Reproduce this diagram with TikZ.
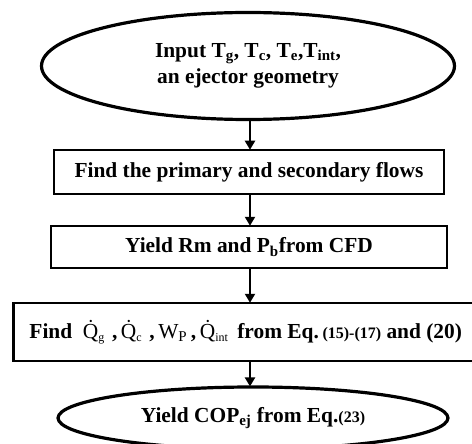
\documentclass[tikz,border=0pt]{standalone}
\usepackage{fontspec}
\setmainfont{Liberation Serif}
\usetikzlibrary{shapes.geometric,arrows.meta}
\tikzset{
  flowtext/.style={font=\bfseries\fontsize{21.4}{26}\selectfont, align=center, text=black},
  terminal/.style={ellipse, draw, line width=3.2pt, inner sep=0pt, flowtext},
  stepbox/.style={rectangle, draw, line width=2.5pt, inner sep=0pt, flowtext},
  flow/.style={line width=2.5pt, -{Triangle[width=10pt,length=9pt]}, shorten >=-1pt},
}
\newcommand{\smallnum}[1]{{\fontsize{16}{16}\selectfont #1}}
% upright, medium-weight quantity with a dot accent and a small subscript
\newcommand{\rate}[2]{{\mdseries\.{#1}\textsubscript{\fontsize{12}{12}\selectfont #2}}}
\begin{document}
\begin{tikzpicture}[x=1pt,y=-1pt]
  \useasboundingbox (0,0) rectangle (472,444);
  \clip (0,0) rectangle (472,444);

  % start: inputs
  \node[terminal, minimum width=413pt, minimum height=107pt] (input) at (248,66)
    {Input T\textsubscript{g}, T\textsubscript{c}, T\textsubscript{e},T\textsubscript{int},\\an ejector geometry};

  % processing steps
  \node[stepbox, minimum width=390pt, minimum height=44pt] (flows) at (249,172)
    {Find the primary and secondary flows};
  \node[stepbox, minimum width=396pt, minimum height=42pt] (cfd) at (249,247)
    {Yield Rm and P\textsubscript{b}from CFD};
  \node[stepbox, minimum width=468pt, minimum height=58pt, anchor=west] (heat) at (12,332)
    {Find \ \rate{Q}{g}\,\,,\,\rate{Q}{c}\,\,,\,{\mdseries W\textsubscript{P}}\,,\,\rate{Q}{int}\, from Eq.\,\smallnum{(15)-(17)} and (20)\hspace{3pt}};

  % end: coefficient of performance
  \node[terminal, minimum width=390pt, minimum height=62pt] (cop) at (253,418)
    {Yield COP\textsubscript{ej} from Eq.\smallnum{(23)}};

  % connectors
  \draw[flow] (input.south -| 250,0) -- (flows.north -| 250,0);
  \draw[flow] (flows.south -| 250,0) -- (cfd.north -| 250,0);
  \draw[flow] (cfd.south -| 250,0) -- (heat.north -| 250,0);
  \draw[flow] (heat.south -| 250,0) -- (cop.north -| 250,0);
\end{tikzpicture}
\end{document}
